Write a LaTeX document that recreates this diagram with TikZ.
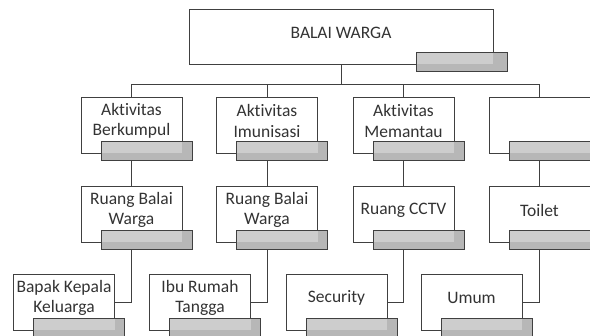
\documentclass[tikz,border=0pt]{standalone}
\usepackage{fontspec}
\setmainfont{Carlito}[Ligatures=NoCommon]
\usetikzlibrary{backgrounds}
\definecolor{ln}{HTML}{404040}
\definecolor{barlt}{HTML}{CDCDCD}
\definecolor{bardk}{HTML}{B7B7B7}
\definecolor{txt}{HTML}{333333}
\tikzset{
 box/.style={draw=ln, line width=0.9pt, fill=white, inner sep=0pt, outer sep=0pt, minimum width=101pt, minimum height=56pt},
 lbl/.style={text=txt, font=\fontsize{17.5}{20.5}\selectfont, align=center, inner sep=0pt},
 conn/.style={draw=ln, line width=0.9pt},
 barline/.style={draw=ln, line width=0.9pt},
}
% name, cx, cy, text, extra style, bar left offset, bar right offset
\newcommand\obox[7]{%
 \node[box,#5] (#1) at (#2,#3) {};
 \node[lbl] (#1-t) at ([yshift=4pt]#1.center) {#4};
 \fill[bardk] ([xshift=-#6pt,yshift=12pt]#1.south east) rectangle ([xshift=#7pt,yshift=-7pt]#1.south east);
 \fill[barlt] ([xshift=-#6pt,yshift=12pt]#1.south east) rectangle (#1.south east);
 \draw[barline] ([xshift=-#6pt,yshift=12pt]#1.south east) rectangle ([xshift=#7pt,yshift=-7pt]#1.south east);
}
\begin{document}
\begin{tikzpicture}[x=1pt,y=-1pt]
\useasboundingbox (0,0) rectangle (590,336);
\clip (0,0) rectangle (590,336);
\obox{bw}{341}{36.5}{BALAI WARGA}{minimum width=304pt,minimum height=55pt}{77}{14}
\obox{a1}{131.5}{125}{Aktivitas\\Berkumpul}{}{81}{10}
\obox{a2}{267}{125}{Aktivitas\\Imunisasi}{}{81}{10}
\obox{a3}{403.5}{125}{Aktivitas\\Memantau}{}{81}{10}
\obox{a4}{539.5}{125}{}{}{81}{10}
\obox{r1}{131.5}{214}{Ruang Balai\\Warga}{}{81}{10}
\obox{r2}{267}{214}{Ruang Balai\\Warga}{}{81}{10}
\obox{r3}{403.5}{214}{Ruang CCTV}{}{81}{10}
\obox{r4}{539.5}{214}{Toilet}{}{81}{10}
\obox{b1}{64}{302}{Bapak Kepala\\Keluarga}{}{81}{10}
\obox{b2}{200}{302}{Ibu Rumah\\Tangga}{}{81}{10}
\obox{b3}{336.5}{302}{Security}{}{81}{10}
\obox{b4}{471.5}{302}{Umum}{}{81}{10}
\begin{scope}[on background layer]
\coordinate (bus) at (341,84);
\draw[conn] (bw.south) -- (bus);
\draw[conn] (bus) -| (a1.north);
\draw[conn] (bus) -| (a2.north);
\draw[conn] (bus) -| (a3.north);
\draw[conn] (bus) -| (a4.north);
\draw[conn] (a1.south) -- (r1.north);
\draw[conn] (a2.south) -- (r2.north);
\draw[conn] (a3.south) -- (r3.north);
\draw[conn] (a4.south) -- (r4.north);
\draw[conn] (r1.south) |- (b1.east);
\draw[conn] (r2.south) |- (b2.east);
\draw[conn] (r3.south) |- (b3.east);
\draw[conn] (r4.south) |- (b4.east);
\end{scope}
\end{tikzpicture}
\end{document}
